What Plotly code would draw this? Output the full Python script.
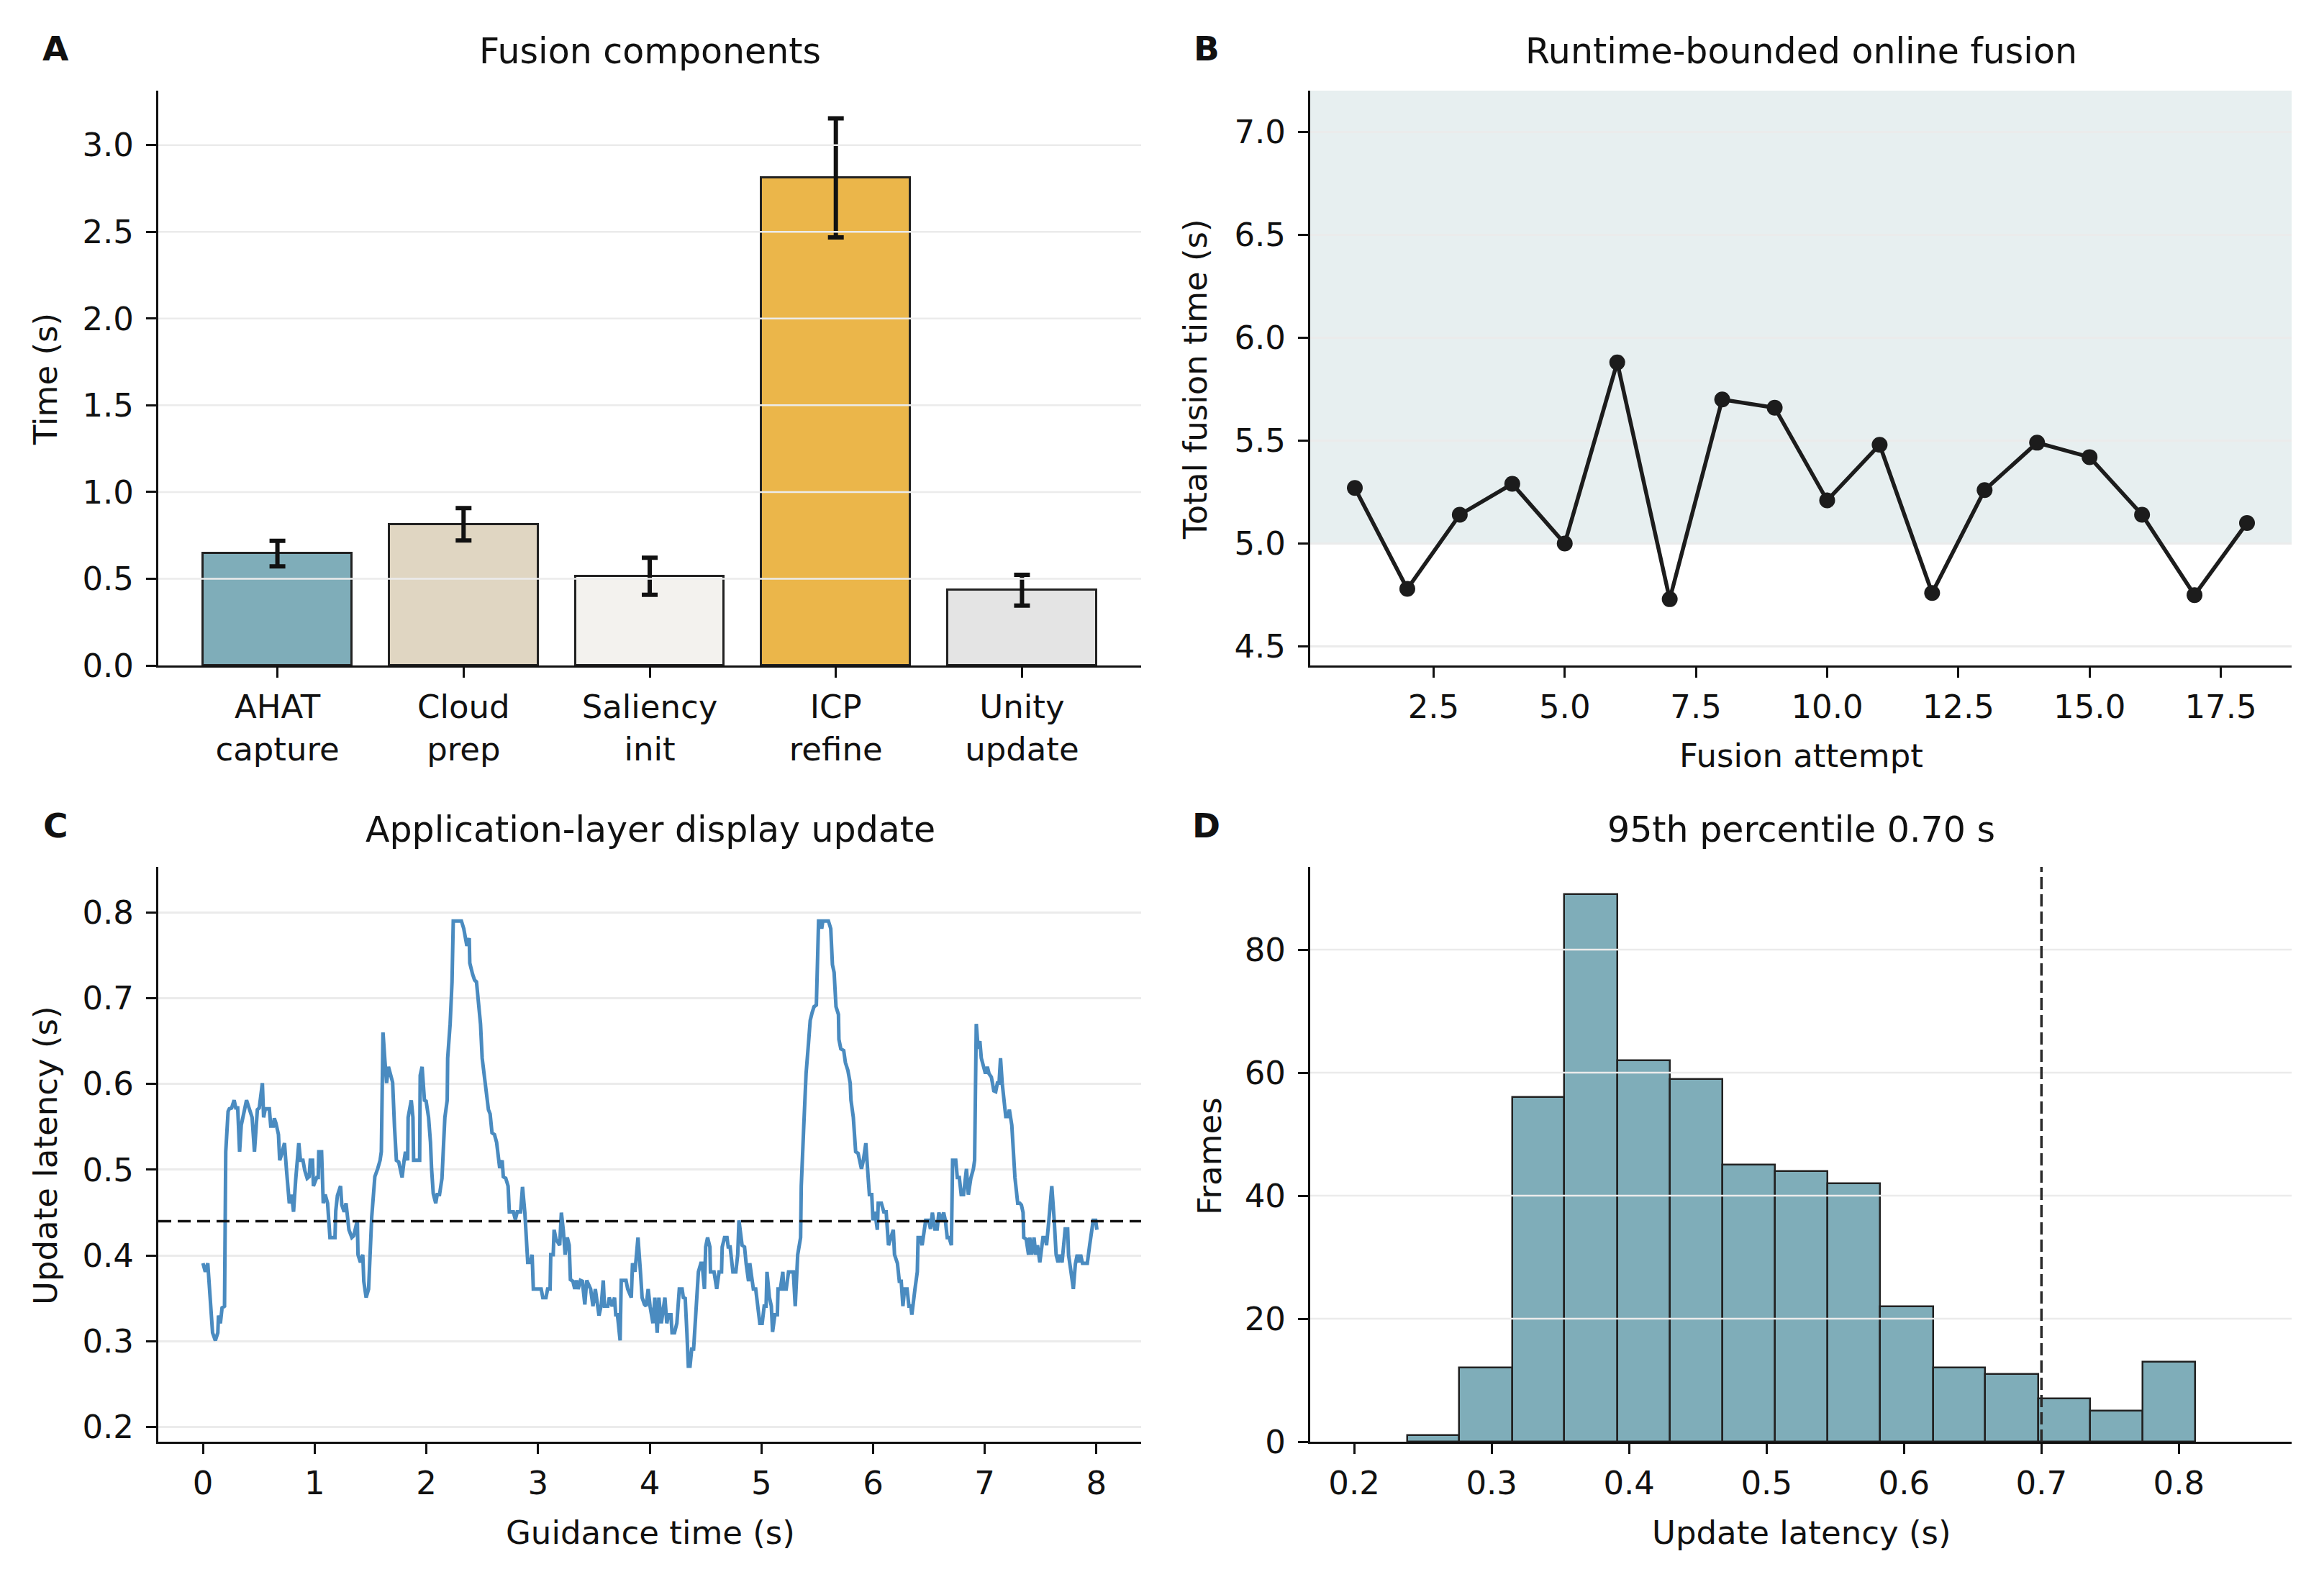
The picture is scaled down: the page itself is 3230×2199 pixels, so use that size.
import plotly.graph_objects as go

# ---------------- data ----------------
# Panel A: fusion components
COMPONENTS = ["AHAT<br>capture", "Cloud<br>prep", "Saliency<br>init", "ICP<br>refine", "Unity<br>update"]
COMP_MEAN = [0.645, 0.814, 0.514, 2.811, 0.434]
COMP_ERR = [0.074, 0.093, 0.107, 0.343, 0.089]
COMP_COLORS = ["#7fadb9", "#e0d6c2", "#f3f2ee", "#ebb64a", "#e4e4e4"]

# Panel B: runtime-bounded online fusion
ATTEMPTS = list(range(1, 19))
TOTAL_TIME = [5.27, 4.78, 5.14, 5.29, 5.00, 5.88, 4.73, 5.70, 5.66,
              5.21, 5.48, 4.76, 5.26, 5.49, 5.42, 5.14, 4.75, 5.10]
BUDGET_LOW = 5.0
BUDGET_HIGH = 7.2

# Panel C: display update latency over guidance time
GUIDE_T = [
    0.000, 0.021, 0.043, 0.086, 0.111, 0.133, 0.139, 0.156, 0.171, 0.193, 0.204, 0.225, 0.236, 0.257, 0.279,
    0.294, 0.311, 0.328, 0.343, 0.375, 0.390, 0.440, 0.461, 0.487, 0.504, 0.532, 0.543, 0.558, 0.594, 0.607,
    0.629, 0.639, 0.654, 0.676, 0.687, 0.702, 0.730, 0.747, 0.773, 0.794, 0.811, 0.830, 0.858, 0.873, 0.895,
    0.912, 0.933, 0.951, 0.961, 0.981, 0.989, 1.019, 1.032, 1.037, 1.062, 1.077, 1.094, 1.116, 1.137,
    1.157, 1.182, 1.189, 1.204, 1.232, 1.243, 1.264, 1.281, 1.307, 1.333, 1.350, 1.382, 1.388, 1.410, 1.431,
    1.440, 1.461, 1.483, 1.511, 1.539, 1.564, 1.586, 1.597, 1.612, 1.629, 1.644, 1.661, 1.676, 1.698, 1.715,
    1.732, 1.753, 1.783, 1.801, 1.813, 1.833, 1.837, 1.865, 1.880, 1.886, 1.912, 1.940, 1.945, 1.962, 1.983,
    1.998, 2.020, 2.037, 2.047, 2.062, 2.084, 2.097, 2.118, 2.140, 2.155, 2.166, 2.187, 2.191, 2.213, 2.230,
    2.241, 2.284,
    2.314, 2.335, 2.350, 2.363, 2.384, 2.389, 2.414, 2.432, 2.449, 2.470, 2.485, 2.500, 2.518, 2.539, 2.556,
    2.571, 2.588, 2.610, 2.629, 2.657, 2.679, 2.689, 2.711, 2.732, 2.743, 2.779, 2.797, 2.814, 2.844, 2.861,
    2.882, 2.908, 2.930, 2.947, 2.958, 2.994, 3.028, 3.043, 3.071, 3.086, 3.108, 3.114, 3.136, 3.144, 3.161,
    3.194, 3.209, 3.226, 3.243, 3.262, 3.279, 3.290, 3.312, 3.329, 3.344, 3.359, 3.380, 3.397, 3.419, 3.436,
    3.471, 3.492, 3.513, 3.546, 3.567, 3.584, 3.595, 3.625, 3.638, 3.664, 3.685, 3.696, 3.711, 3.735, 3.745,
    3.788, 3.803, 3.835, 3.846, 3.868, 3.895, 3.917, 3.932, 3.953, 3.968, 3.986, 4.003, 4.029, 4.046, 4.067,
    4.082, 4.104, 4.136, 4.153, 4.168, 4.190, 4.200, 4.222, 4.243, 4.265, 4.290, 4.301, 4.318, 4.333, 4.346,
    4.361, 4.376, 4.393, 4.415, 4.436, 4.458, 4.469, 4.490, 4.501, 4.518, 4.539, 4.544, 4.576,
    4.600, 4.621, 4.643, 4.649, 4.670, 4.692, 4.703, 4.720, 4.745, 4.771, 4.788, 4.799, 4.827, 4.849, 4.864,
    4.885, 4.896, 4.913, 4.928, 4.949, 4.971, 4.986, 5.007, 5.025, 5.042, 5.050, 5.072, 5.089, 5.100, 5.121,
    5.143, 5.149, 5.170, 5.192, 5.200, 5.222, 5.243, 5.286, 5.303, 5.325, 5.351, 5.357, 5.379, 5.400, 5.422,
    5.437, 5.454, 5.471, 5.492, 5.501, 5.512, 5.529, 5.540, 5.550, 5.600, 5.621, 5.636, 5.651, 5.668, 5.690,
    5.694, 5.711, 5.728,
    5.737, 5.752, 5.774, 5.795, 5.802, 5.823, 5.844, 5.866, 5.881, 5.896, 5.913, 5.935, 5.956, 5.967, 5.988,
    5.999, 6.016, 6.038, 6.046, 6.074, 6.096, 6.117, 6.138, 6.160, 6.181, 6.192, 6.218, 6.235, 6.252, 6.267,
    6.282, 6.304, 6.321, 6.338, 6.347, 6.375, 6.396, 6.403, 6.424, 6.439, 6.454, 6.471, 6.497, 6.514, 6.531,
    6.553, 6.574, 6.589, 6.611, 6.632, 6.647, 6.664, 6.681, 6.701, 6.712, 6.740, 6.754, 6.772, 6.789, 6.810,
    6.836, 6.853, 6.875,
    6.898, 6.909, 6.924, 6.941, 6.956, 6.969, 6.991, 7.006, 7.023, 7.038, 7.059, 7.081, 7.098, 7.113, 7.128,
    7.141, 7.156, 7.171, 7.188, 7.209, 7.220, 7.242, 7.253, 7.270, 7.295, 7.313, 7.328, 7.343, 7.349, 7.371,
    7.392, 7.403, 7.420, 7.441, 7.456, 7.472, 7.493, 7.521, 7.542, 7.553, 7.574, 7.600, 7.622, 7.639, 7.656,
    7.671, 7.692, 7.720, 7.742, 7.750, 7.772, 7.793, 7.811, 7.828, 7.843, 7.858, 7.875, 7.918, 7.939, 7.971,
    7.993, 8.004,
]
LATENCY = [
    0.391, 0.381, 0.391, 0.310, 0.301, 0.310, 0.330, 0.321, 0.339, 0.341, 0.521, 0.568, 0.571, 0.572, 0.581,
    0.572, 0.572, 0.521, 0.552, 0.570, 0.581, 0.561, 0.521, 0.570, 0.572, 0.601, 0.561, 0.571, 0.571, 0.551,
    0.551, 0.560, 0.554, 0.541, 0.511, 0.517, 0.531, 0.501, 0.461, 0.471, 0.451, 0.488, 0.531, 0.511, 0.511,
    0.499, 0.490, 0.492, 0.511, 0.511, 0.481, 0.491, 0.491, 0.521, 0.521, 0.461, 0.471, 0.461, 0.421,
    0.421, 0.421, 0.452, 0.470, 0.481, 0.459, 0.451, 0.461, 0.430, 0.421, 0.423, 0.441, 0.401, 0.392, 0.401,
    0.370, 0.351, 0.361, 0.445, 0.492, 0.501, 0.511, 0.521, 0.660, 0.627, 0.601, 0.620, 0.614, 0.602, 0.550,
    0.511, 0.509, 0.491, 0.511, 0.521, 0.511, 0.561, 0.581, 0.561, 0.511, 0.511, 0.511, 0.610, 0.620, 0.581,
    0.580, 0.561, 0.532, 0.501, 0.472, 0.461, 0.471, 0.471, 0.490, 0.532, 0.561, 0.581, 0.630, 0.670, 0.719,
    0.790, 0.790,
    0.790, 0.781, 0.768, 0.761, 0.770, 0.741, 0.728, 0.721, 0.719, 0.692, 0.670, 0.630, 0.612, 0.590, 0.570,
    0.565, 0.543, 0.541, 0.532, 0.502, 0.511, 0.492, 0.490, 0.481, 0.451, 0.451, 0.442, 0.451, 0.451, 0.480,
    0.450, 0.392, 0.392, 0.401, 0.361, 0.361, 0.361, 0.351, 0.351, 0.361, 0.361, 0.401, 0.401, 0.430, 0.419,
    0.412, 0.450, 0.430, 0.401, 0.421, 0.412, 0.372, 0.370, 0.361, 0.371, 0.361, 0.371, 0.370, 0.343, 0.371,
    0.361, 0.341, 0.361, 0.330, 0.343, 0.371, 0.341, 0.341, 0.351, 0.341, 0.351, 0.331, 0.331, 0.301, 0.371,
    0.371, 0.361, 0.351, 0.391, 0.381, 0.421, 0.381, 0.351, 0.343, 0.341, 0.361, 0.341, 0.321, 0.351, 0.310,
    0.351, 0.321, 0.351, 0.321, 0.331, 0.331, 0.310, 0.310, 0.321, 0.361, 0.361, 0.351, 0.350, 0.310, 0.271,
    0.271, 0.291, 0.291, 0.341, 0.381, 0.391, 0.391, 0.361, 0.410, 0.421, 0.410, 0.381, 0.381,
    0.361, 0.381, 0.381, 0.410, 0.421, 0.421, 0.410, 0.410, 0.381, 0.381, 0.401, 0.441, 0.412, 0.410, 0.390,
    0.370, 0.391, 0.370, 0.361, 0.361, 0.341, 0.321, 0.321, 0.341, 0.341, 0.381, 0.351, 0.341, 0.311, 0.331,
    0.331, 0.361, 0.361, 0.381, 0.361, 0.361, 0.381, 0.381, 0.341, 0.401, 0.421, 0.481, 0.550, 0.612, 0.648,
    0.674, 0.683, 0.690, 0.692, 0.739, 0.790, 0.790, 0.781, 0.790, 0.790, 0.781, 0.739, 0.730, 0.690, 0.681,
    0.652, 0.641, 0.640,
    0.639, 0.625, 0.616, 0.601, 0.581, 0.561, 0.521, 0.519, 0.511, 0.501, 0.511, 0.531, 0.491, 0.471, 0.471,
    0.441, 0.451, 0.430, 0.461, 0.461, 0.451, 0.451, 0.412, 0.421, 0.430, 0.401, 0.391, 0.370, 0.370, 0.341,
    0.361, 0.361, 0.341, 0.341, 0.331, 0.361, 0.381, 0.421, 0.421, 0.412, 0.430, 0.441, 0.441, 0.431, 0.450,
    0.431, 0.431, 0.450, 0.441, 0.450, 0.441, 0.421, 0.421, 0.412, 0.511, 0.511, 0.491, 0.491, 0.471, 0.471,
    0.501, 0.471, 0.490,
    0.501, 0.511, 0.670, 0.641, 0.650, 0.630, 0.621, 0.612, 0.620, 0.612, 0.608, 0.592, 0.591, 0.601, 0.601,
    0.630, 0.601, 0.581, 0.562, 0.562, 0.570, 0.552, 0.521, 0.491, 0.461, 0.461, 0.459, 0.450, 0.421, 0.419,
    0.401, 0.421, 0.401, 0.421, 0.401, 0.412, 0.392, 0.421, 0.421, 0.412, 0.441, 0.481, 0.441, 0.401, 0.392,
    0.401, 0.392, 0.431, 0.431, 0.401, 0.381, 0.361, 0.390, 0.401, 0.392, 0.401, 0.391, 0.391, 0.412, 0.441,
    0.441, 0.430,
]
LATENCY_REF = 0.44

# Panel D: histogram of update latency
BIN_EDGES = [0.2385, 0.2765, 0.3150, 0.3530, 0.3916, 0.4296, 0.4681, 0.5061, 0.5446,
             0.5826, 0.6211, 0.6591, 0.6976, 0.7356, 0.7736, 0.8116]
BIN_COUNTS = [1, 12, 56, 89, 62, 59, 45, 44, 42, 22, 12, 11, 7, 5, 13]
P95 = 0.70

# tick values
A_YTICKS = [0.0, 0.5, 1.0, 1.5, 2.0, 2.5, 3.0]
B_XTICKS = [2.5, 5.0, 7.5, 10.0, 12.5, 15.0, 17.5]
B_YTICKS = [4.5, 5.0, 5.5, 6.0, 6.5, 7.0]
C_XTICKS = [0, 1, 2, 3, 4, 5, 6, 7, 8]
C_YTICKS = [0.2, 0.3, 0.4, 0.5, 0.6, 0.7, 0.8]
D_XTICKS = [0.2, 0.3, 0.4, 0.5, 0.6, 0.7, 0.8]
D_YTICKS = [0, 20, 40, 60, 80]

# ---------------- layout helpers ----------------
W, H = 3230, 2199
FONT = "DejaVu Sans"
INK = "#111111"
GRID = "#ebebeb"
TICK_SIZE = 45
LABEL_SIZE = 45
TITLE_SIZE = 49


def fx(p):
    return p / W


def fy(p):
    return 1 - p / H


LEFT_X = [fx(220), fx(1586)]
RIGHT_X = [fx(1821), fx(3185)]
TOP_Y = [fy(925), fy(126)]
BOT_Y = [fy(2004), fy(1205)]


def axis(domain, anchor, **kw):
    d = dict(domain=domain, anchor=anchor, showline=True, linecolor=INK, linewidth=3,
             ticks="outside", ticklen=14, tickwidth=3, tickcolor=INK,
             tickfont=dict(family=FONT, size=TICK_SIZE, color=INK), zeroline=False,
             showgrid=False, ticklabelstandoff=8, automargin=False)
    d.update(kw)
    return d


fig = go.Figure()

# A: bars with error bars
fig.add_trace(go.Bar(
    x=list(range(len(COMPONENTS))), y=COMP_MEAN, width=0.8,
    marker=dict(color=COMP_COLORS, line=dict(color="#222222", width=3)),
    error_y=dict(type="data", array=COMP_ERR, color=INK, thickness=6, width=11),
    xaxis="x", yaxis="y", showlegend=False))

# B: line with markers
fig.add_trace(go.Scatter(
    x=ATTEMPTS, y=TOTAL_TIME, mode="lines+markers",
    line=dict(color="#1c1c1c", width=5.5), marker=dict(size=22, color="#1c1c1c"),
    xaxis="x2", yaxis="y2", showlegend=False))

# C: latency trace
fig.add_trace(go.Scatter(
    x=GUIDE_T, y=LATENCY, mode="lines",
    line=dict(color="#4a8bc0", width=5),
    xaxis="x3", yaxis="y3", showlegend=False))

# D: histogram bars
centers = [(BIN_EDGES[i] + BIN_EDGES[i + 1]) / 2 for i in range(len(BIN_COUNTS))]
widths = [BIN_EDGES[i + 1] - BIN_EDGES[i] for i in range(len(BIN_COUNTS))]
fig.add_trace(go.Bar(
    x=centers, y=BIN_COUNTS, width=widths,
    marker=dict(color="#7fadb9", line=dict(color="#222222", width=2.5)),
    xaxis="x4", yaxis="y4", showlegend=False))

shapes = []
# gridlines above bars for A and D
for v in A_YTICKS[1:]:
    shapes.append(dict(type="line", xref="x domain", yref="y", x0=0, x1=1, y0=v, y1=v,
                       line=dict(color=GRID, width=2.5), layer="above"))
for v in D_YTICKS[1:]:
    shapes.append(dict(type="line", xref="x4 domain", yref="y4", x0=0, x1=1, y0=v, y1=v,
                       line=dict(color=GRID, width=2.5), layer="above"))
# B budget band
shapes.append(dict(type="rect", xref="x2 domain", yref="y2", x0=0, x1=1,
                   y0=BUDGET_LOW, y1=BUDGET_HIGH, fillcolor="#e7eff0",
                   line=dict(width=0), layer="below"))
# C reference line
shapes.append(dict(type="line", xref="x3 domain", yref="y3", x0=0, x1=1,
                   y0=LATENCY_REF, y1=LATENCY_REF,
                   line=dict(color=INK, width=3.5, dash="18px,9px"), layer="above"))
# D 95th percentile
shapes.append(dict(type="line", xref="x4", yref="y4 domain", x0=P95, x1=P95, y0=0, y1=1,
                   line=dict(color="#2a2a2a", width=3.5, dash="17px,7px"), layer="above"))

ann = []


def text(x, y, s, size, bold=False, angle=0):
    ann.append(dict(x=fx(x), y=fy(y), xref="paper", yref="paper", text=s, showarrow=False,
                    xanchor="center", yanchor="middle", textangle=angle,
                    font=dict(family=FONT, size=size, color=INK,
                              weight="bold" if bold else "normal")))


# panel letters
text(77, 68, "A", 47, bold=True)
text(1677, 68, "B", 47, bold=True)
text(77, 1147, "C", 47, bold=True)
text(1677, 1147, "D", 47, bold=True)
# titles
text(904, 72, "Fusion components", TITLE_SIZE)
text(2503, 72, "Runtime-bounded online fusion", TITLE_SIZE)
text(904, 1153, "Application-layer display update", TITLE_SIZE)
text(2503, 1153, "95th percentile 0.70 s", TITLE_SIZE)
# axis titles
text(63, 527, "Time (s)", LABEL_SIZE, angle=-90)
text(1661, 527, "Total fusion time (s)", LABEL_SIZE, angle=-90)
text(63, 1607, "Update latency (s)", LABEL_SIZE, angle=-90)
text(1681, 1607, "Frames", LABEL_SIZE, angle=-90)
text(2503, 1050, "Fusion attempt", LABEL_SIZE)
text(904, 2130, "Guidance time (s)", LABEL_SIZE)
text(2503, 2130, "Update latency (s)", LABEL_SIZE)

fig.update_layout(
    template="none",
    width=W, height=H, margin=dict(l=0, r=0, t=0, b=0, pad=0), autosize=False,
    paper_bgcolor="white", plot_bgcolor="white",
    font=dict(family=FONT, color=INK),
    shapes=shapes, annotations=ann, bargap=0, showlegend=False,
    xaxis=axis(LEFT_X, "y", range=[-0.64, 4.64], tickmode="array",
               tickvals=list(range(len(COMPONENTS))), ticktext=COMPONENTS,
               ticklabelstandoff=2),
    yaxis=axis(TOP_Y, "x", range=[0, 3.314], tickmode="array", tickvals=A_YTICKS,
               tickformat=".1f"),
    xaxis2=axis(RIGHT_X, "y2", range=[0.15, 18.85], tickmode="array", tickvals=B_XTICKS,
                tickformat=".1f", ticklabelstandoff=2),
    yaxis2=axis(TOP_Y, "x2", range=[4.408, 7.2], tickmode="array", tickvals=B_YTICKS,
                tickformat=".1f", showgrid=True, gridcolor=GRID, gridwidth=2.5),
    xaxis3=axis(LEFT_X, "y3", range=[-0.4, 8.4], tickmode="array", tickvals=C_XTICKS,
                ticklabelstandoff=2),
    yaxis3=axis(BOT_Y, "x3", range=[0.183, 0.853], tickmode="array", tickvals=C_YTICKS,
                tickformat=".1f", showgrid=True, gridcolor=GRID, gridwidth=2.5),
    xaxis4=axis(RIGHT_X, "y4", range=[0.168, 0.882], tickmode="array", tickvals=D_XTICKS,
                tickformat=".1f", ticklabelstandoff=2),
    yaxis4=axis(BOT_Y, "x4", range=[0, 93.45], tickmode="array", tickvals=D_YTICKS),
)

fig.write_html("out.html")
